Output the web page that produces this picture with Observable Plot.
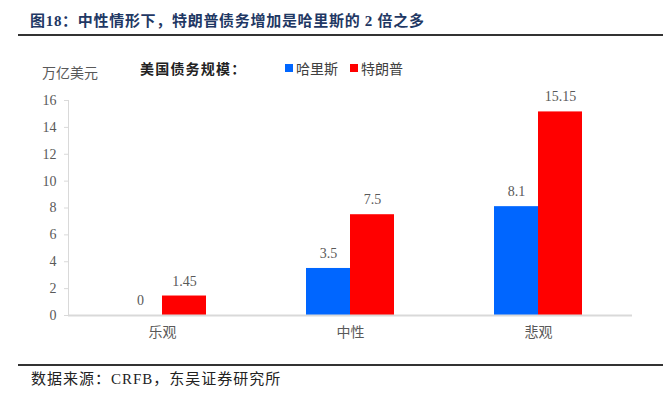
<!DOCTYPE html>
<html>
<head>
<meta charset="utf-8">
<script src="https://cdn.jsdelivr.net/npm/d3@7"></script>
<script src="https://cdn.jsdelivr.net/npm/@observablehq/plot@0.6"></script>
<style>
  html, body { margin: 0; padding: 0; background: #fff; }
  #page { position: relative; width: 663px; height: 397px; overflow: hidden;
    font-family: "Liberation Serif", "Noto Sans CJK SC", serif; }
  .abs { position: absolute; white-space: nowrap; }
  #title { left: 30px; top: 9px; font-size: 15px; letter-spacing: 0.7px; font-weight: bold; color: #1f3864;
    font-family: "Liberation Serif", "Noto Sans CJK SC", serif; }
  .rule { position: absolute; left: 18px; width: 645px; height: 2px; background: #333; }
  #unit { left: 42px; top: 62px; font-size: 14px; color: #595959; }
  #legtitle { left: 140px; top: 58px; font-size: 14px; letter-spacing: 1.2px; font-weight: bold; color: #222; }
  #legend { left: 285px; top: 58px; font-size: 14px; color: #404040; display: flex; align-items: center; }
  .sw { display: inline-block; width: 8px; height: 8px; margin-right: 3px; }
  .item { display: flex; align-items: center; margin-right: 12px; }
  #chart { position: absolute; left: 0; top: 40px; }
  #caption { left: 31px; top: 367px; font-size: 15px; letter-spacing: 1px; color: #222; }
</style>
</head>
<body>
<div id="page">
  <div id="title" class="abs">图18：中性情形下，特朗普债务增加是哈里斯的 2 倍之多</div>
  <div class="rule" style="top:34px"></div>
  <div id="unit" class="abs">万亿美元</div>
  <div id="legtitle" class="abs">美国债务规模：</div>
  <div id="legend" class="abs"></div>
  <div id="chart"></div>
  <div class="rule" style="top:364px"></div>
  <div id="caption" class="abs">数据来源：CRFB，东吴证券研究所</div>
</div>
<script>
const scenarios = ["乐观", "中性", "悲观"];
const candidates = ["哈里斯", "特朗普"];
const harris = [0, 3.5, 8.1];
const trump = [1.45, 7.5, 15.15];
const colors = ["#0066ff", "#ff0000"];
const yTicks = [0, 2, 4, 6, 8, 10, 12, 14, 16];

const data = [];
scenarios.forEach((s, i) => {
  data.push({scenario: s, candidate: candidates[0], value: harris[i]});
  data.push({scenario: s, candidate: candidates[1], value: trump[i]});
});

// legend
const legend = document.getElementById("legend");
candidates.forEach((c, i) => {
  const it = document.createElement("span");
  it.className = "item";
  it.innerHTML = `<span class="sw" style="background:${colors[i]}"></span>${c}`;
  legend.appendChild(it);
});

const chart = Plot.plot({
  width: 663,
  height: 310,
  marginLeft: 67,
  marginRight: 30,
  marginTop: 60,
  marginBottom: 35,
  style: {fontFamily: "'Liberation Serif', 'Noto Sans CJK SC', serif", fontSize: "14px", color: "#595959", background: "transparent"},
  fx: {domain: scenarios, padding: 0, axis: "bottom", tickSize: 0, tickPadding: 12, label: null},
  x: {domain: candidates, paddingInner: 0, paddingOuter: 1.1, axis: null},
  y: {domain: [0, 16], axis: null},
  color: {domain: candidates, range: colors},
  marks: [
    Plot.axisY({ticks: yTicks, tickSize: 4, tickPadding: 8, stroke: "#d9d9d9", fill: "#595959", label: null, facetAnchor: "left"}),
    Plot.frame({anchor: "left", stroke: "#d9d9d9", facetAnchor: "left"}),
    Plot.barY(data, {fx: "scenario", x: "candidate", y: "value", fill: "candidate"}),
    Plot.ruleY([0], {stroke: "#d9d9d9", strokeWidth: 2}),
    Plot.text(data, {fx: "scenario", x: "candidate", y: "value", text: d => String(d.value), dy: -15, fill: "#595959"})
  ]
});
document.getElementById("chart").appendChild(chart);
</script>
</body>
</html>
